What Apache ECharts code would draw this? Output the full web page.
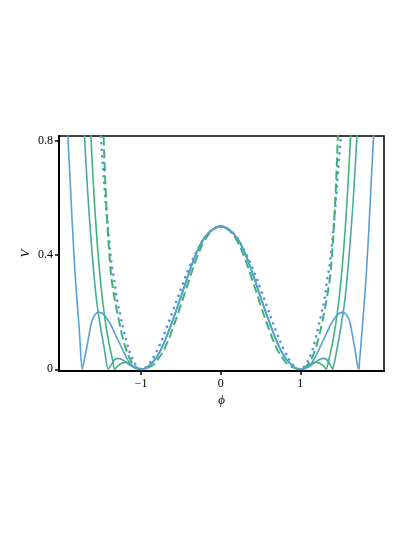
<!DOCTYPE html>
<html>
<head>
<meta charset="utf-8">
<script src="https://cdn.jsdelivr.net/npm/echarts@6/dist/echarts.min.js"></script>
<style>
  html, body { margin: 0; padding: 0; background: #fff; }
  #chart { width: 415px; height: 537px; }
</style>
</head>
<body>
<div id="chart"></div>
<script>
// tick labels
const phiTicks = [-1, 0, 1];
const vTicks = [0, 0.4, 0.8];

// shared middle part of the three solid curves
const wellCore = [[-1, 0], [-0.95, 0.003], [-0.9, 0.012], [-0.8, 0.044], [-0.7, 0.1], [-0.6, 0.173],
  [-0.5, 0.253], [-0.4, 0.336], [-0.3, 0.41], [-0.2, 0.462], [-0.1, 0.489], [0, 0.5],
  [0.1, 0.489], [0.2, 0.462], [0.3, 0.41], [0.4, 0.336], [0.5, 0.253], [0.6, 0.173],
  [0.7, 0.1], [0.8, 0.044], [0.9, 0.012], [0.95, 0.003], [1, 0]];

// blue solid
const blueLeft = [[-1.931, 0.9], [-1.916, 0.8], [-1.896, 0.69], [-1.876, 0.58], [-1.846, 0.42],
  [-1.817, 0.29], [-1.776, 0.14], [-1.737, 0], [-1.735, 0], [-1.685, 0.071], [-1.65, 0.125],
  [-1.618, 0.168], [-1.575, 0.192], [-1.526, 0.199], [-1.47, 0.192], [-1.39, 0.161],
  [-1.33, 0.126], [-1.26, 0.085], [-1.2, 0.05], [-1.14, 0.021], [-1.08, 0.006], [-1.04, 0.001]];
const blueRight = [[1.04, 0.001], [1.08, 0.006], [1.14, 0.021], [1.2, 0.05], [1.26, 0.085],
  [1.33, 0.126], [1.39, 0.161], [1.47, 0.192], [1.526, 0.199], [1.575, 0.192], [1.618, 0.168],
  [1.65, 0.125], [1.685, 0.071], [1.735, 0], [1.737, 0], [1.776, 0.14], [1.817, 0.29],
  [1.846, 0.42], [1.876, 0.58], [1.896, 0.69], [1.916, 0.8], [1.931, 0.9]];

// teal solid
const tealLeft = [[-1.74, 0.98], [-1.71, 0.816], [-1.67, 0.62], [-1.64, 0.5], [-1.6, 0.36],
  [-1.56, 0.245], [-1.51, 0.15], [-1.46, 0.07], [-1.411, 0], [-1.409, 0], [-1.38, 0.013],
  [-1.34, 0.031], [-1.295, 0.038], [-1.24, 0.034], [-1.18, 0.023], [-1.12, 0.011], [-1.06, 0.003]];
const tealRight = [[1.06, 0.003], [1.12, 0.011], [1.18, 0.023], [1.24, 0.034], [1.295, 0.038],
  [1.34, 0.031], [1.38, 0.013], [1.409, 0], [1.411, 0], [1.46, 0.07], [1.51, 0.15],
  [1.56, 0.245], [1.6, 0.36], [1.64, 0.5], [1.67, 0.62], [1.71, 0.816], [1.74, 0.98]];

// green solid
const greenLeft = [[-1.66, 1.0], [-1.63, 0.816], [-1.6, 0.655], [-1.56, 0.479], [-1.52, 0.34],
  [-1.48, 0.233], [-1.44, 0.152], [-1.4, 0.088], [-1.36, 0.036], [-1.331, 0], [-1.329, 0],
  [-1.29, 0.012], [-1.24, 0.021], [-1.19, 0.024], [-1.14, 0.02], [-1.09, 0.01], [-1.04, 0.003]];
const greenRight = [[1.04, 0.003], [1.09, 0.01], [1.14, 0.02], [1.19, 0.024], [1.24, 0.021],
  [1.29, 0.012], [1.329, 0], [1.331, 0], [1.36, 0.036], [1.4, 0.088], [1.44, 0.152],
  [1.48, 0.233], [1.52, 0.34], [1.56, 0.479], [1.6, 0.655], [1.63, 0.816], [1.66, 1.0]];

// green dashed
const dashedWell = [[-1.48, 0.86], [-1.471, 0.816], [-1.458, 0.72], [-1.443, 0.62], [-1.425, 0.52],
  [-1.402, 0.42], [-1.376, 0.33], [-1.345, 0.27], [-1.31, 0.215], [-1.27, 0.16], [-1.23, 0.11],
  [-1.19, 0.072], [-1.15, 0.042], [-1.1, 0.018], [-1.05, 0.005], [-1.02, 0.001], [-0.98, 0],
  [-0.93, 0.004], [-0.85, 0.015], [-0.8, 0.03], [-0.7, 0.075], [-0.6, 0.145], [-0.5, 0.225],
  [-0.4, 0.31], [-0.3, 0.39], [-0.2, 0.452], [-0.1, 0.487], [0, 0.5], [0.1, 0.487], [0.2, 0.452],
  [0.3, 0.39], [0.4, 0.31], [0.5, 0.225], [0.6, 0.145], [0.7, 0.075], [0.8, 0.03], [0.85, 0.015],
  [0.93, 0.004], [0.98, 0], [1.02, 0.001], [1.05, 0.005], [1.1, 0.018], [1.15, 0.042],
  [1.19, 0.072], [1.23, 0.11], [1.27, 0.16], [1.31, 0.215], [1.345, 0.27], [1.376, 0.33],
  [1.402, 0.42], [1.425, 0.52], [1.443, 0.62], [1.458, 0.72], [1.471, 0.816], [1.48, 0.86]];

// blue dotted
const dottedWell = [[-1.52, 0.86], [-1.5, 0.79], [-1.47, 0.68], [-1.44, 0.57], [-1.4, 0.45],
  [-1.37, 0.37], [-1.33, 0.3], [-1.3, 0.24], [-1.26, 0.19], [-1.22, 0.14], [-1.18, 0.095],
  [-1.14, 0.058], [-1.09, 0.027], [-1.05, 0.01], [-1, 0], [-0.95, 0.005], [-0.9, 0.018],
  [-0.8, 0.065], [-0.7, 0.13], [-0.6, 0.205], [-0.5, 0.281], [-0.4, 0.353], [-0.3, 0.414],
  [-0.2, 0.461], [-0.1, 0.49], [0, 0.5], [0.1, 0.49], [0.2, 0.461], [0.3, 0.414], [0.4, 0.353],
  [0.5, 0.281], [0.6, 0.205], [0.7, 0.13], [0.8, 0.065], [0.9, 0.018], [0.95, 0.005], [1, 0],
  [1.05, 0.01], [1.09, 0.027], [1.14, 0.058], [1.18, 0.095], [1.22, 0.14], [1.26, 0.19],
  [1.3, 0.24], [1.33, 0.3], [1.37, 0.37], [1.4, 0.45], [1.44, 0.57], [1.47, 0.68], [1.5, 0.79],
  [1.52, 0.86]];

const serif = 'Liberation Serif, DejaVu Serif, serif';
const chart = echarts.init(document.getElementById('chart'), null, { renderer: 'canvas' });

const solid = (data, color) => ({
  type: 'line',
  data: data,
  smooth: 0.4,
  showSymbol: false,
  lineStyle: { color: color, width: 1.6 },
  z: 3,
});

const option = {
  animation: false,
  backgroundColor: '#fff',
  grid: {
    left: 59, right: 31, top: 136, bottom: 166,
    show: true, borderColor: '#000', borderWidth: 1.5,
  },
  xAxis: {
    type: 'value',
    min: -2.03,
    max: 2.05,
    splitLine: { show: false },
    axisLine: { onZero: false, lineStyle: { color: '#000', width: 2 } },
    axisTick: { customValues: phiTicks, length: 4, lineStyle: { color: '#000', width: 1.5 } },
    axisLabel: {
      customValues: phiTicks,
      formatter: (v) => (v < 0 ? '\u2212' + Math.abs(v) : String(v)),
      color: '#000', fontFamily: serif, fontSize: 12, margin: 7,
    },
    name: '\u03d5',
    nameLocation: 'middle',
    nameGap: 23,
    nameMoveOverlap: false,
    nameTextStyle: { color: '#000', fontFamily: serif, fontStyle: 'italic', fontSize: 13 },
  },
  yAxis: {
    type: 'value',
    min: -0.006,
    max: 0.816,
    splitLine: { show: false },
    axisLine: { onZero: false, lineStyle: { color: '#000', width: 2 } },
    axisTick: { customValues: vTicks, length: 4, lineStyle: { color: '#000', width: 1.5 } },
    axisLabel: {
      customValues: vTicks,
      formatter: (v) => String(v),
      color: '#000', fontFamily: serif, fontSize: 12, margin: 6,
    },
    name: 'V',
    nameLocation: 'middle',
    nameGap: 27,
    nameMoveOverlap: false,
    nameTextStyle: { color: '#000', fontFamily: serif, fontStyle: 'italic', fontSize: 13 },
  },
  series: [
    {
      type: 'line',
      data: dottedWell,
      smooth: 0.4,
      showSymbol: false,
      lineStyle: { color: '#5b8ff0', width: 2.6, type: [0.1, 6.5], cap: 'round' },
      z: 2,
    },
    {
      type: 'line',
      data: dashedWell,
      smooth: 0.4,
      showSymbol: false,
      lineStyle: { color: '#3cb371', width: 2, type: [9, 4] },
      z: 2,
    },
    solid(greenLeft.concat(wellCore, greenRight), '#3db57c'),
    solid(tealLeft.concat(wellCore, tealRight), '#48aa9d'),
    solid(blueLeft.concat(wellCore, blueRight), '#58a0d3'),
  ],
};

chart.setOption(option);
</script>
</body>
</html>
